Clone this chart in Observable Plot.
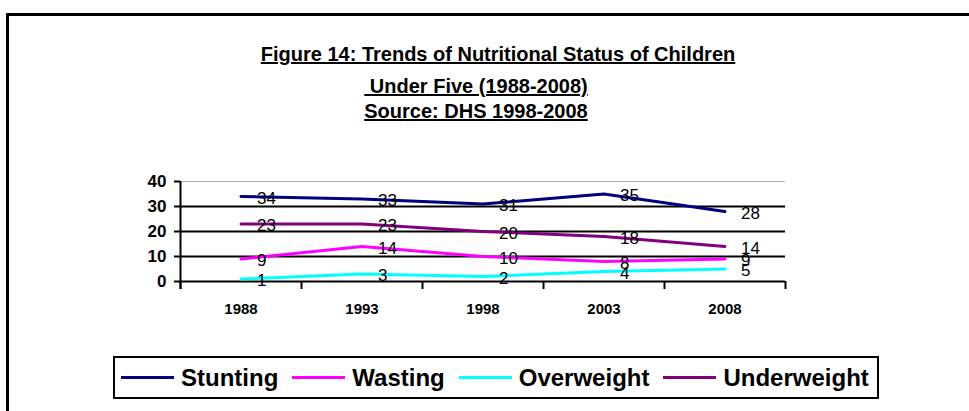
<!DOCTYPE html>
<html>
<head>
<meta charset="utf-8">
<script src="https://cdn.jsdelivr.net/npm/d3@7"></script>
<script src="https://cdn.jsdelivr.net/npm/@observablehq/plot@0.6"></script>
<style>
  html, body { margin: 0; padding: 0; background: #fff; }
  #wrap { position: relative; width: 969px; height: 411px; overflow: hidden; font-family: "Liberation Sans", Arial, sans-serif; }
  #frame { position: absolute; left: 6px; top: 13px; width: 1000px; height: 500px; border: 3px solid #000; box-sizing: border-box; }
  .title { position: absolute; font-weight: bold; font-size: 20px; text-decoration: underline; white-space: pre; transform: translateX(-50%); line-height: 1; }
  #chart { position: absolute; left: 0; top: 0; }
  #legend { position: absolute; left: 113px; top: 356px; width: 766px; height: 43px; border: 2px solid #000; box-sizing: border-box; display: flex; align-items: center; font-weight: bold; font-size: 24px; }
  .item { display: flex; align-items: center; margin-right: 14px; }
  .item:first-child { margin-left: 6px; }
  .sw { width: 53px; height: 3px; margin-right: 7px; }
</style>
</head>
<body>
<div id="wrap">
  <div id="frame"></div>
  <div class="title" style="left:498px; top:44px;">Figure 14: Trends of Nutritional Status of Children</div>
  <div class="title" style="left:476px; top:76px;"> Under Five (1988-2008)</div>
  <div class="title" style="left:476px; top:101px;">Source: DHS 1998-2008</div>
  <div id="chart"></div>
  <div id="legend"></div>
</div>
<script>
const years = ["1988", "1993", "1998", "2003", "2008"];
const seriesNames = ["Stunting", "Wasting", "Overweight", "Underweight"];
const seriesColors = ["#000080", "#FF00FF", "#00FFFF", "#800080"];
const stunting = [34, 33, 31, 35, 28];
const wasting = [9, 14, 10, 8, 9];
const overweight = [1, 3, 2, 4, 5];
const underweight = [23, 23, 20, 18, 14];
const yTicks = [0, 10, 20, 30, 40];
const gridValues = [0, 10, 20, 30];

const seriesValues = [stunting, wasting, overweight, underweight];
const rows = [];
seriesNames.forEach((name, s) => {
  seriesValues[s].forEach((v, i) => rows.push({series: name, year: years[i], pos: i + 0.5, value: v}));
});

const plot = Plot.plot({
  width: 969,
  height: 330,
  marginLeft: 180,
  marginRight: 184,
  marginTop: 181,
  marginBottom: 49,
  style: {fontFamily: "'Liberation Sans', Arial, sans-serif", background: "transparent", color: "#000"},
  x: {domain: [0, years.length], axis: null, label: null},
  y: {domain: [0, 40], axis: null, label: null},
  color: {domain: seriesNames, range: seriesColors},
  marks: [
    Plot.ruleY([40], {stroke: "#b0b0b0", strokeWidth: 1}),
    Plot.ruleY(gridValues, {stroke: "#000", strokeWidth: 2}),
    Plot.ruleX([0], {stroke: "#000", strokeWidth: 2, insetBottom: -8}),
    Plot.axisY({ticks: yTicks, label: null, tickSize: 6, tickPadding: 8, fontSize: 17, fontWeight: "bold", stroke: "#000", strokeWidth: 2}),
    Plot.axisX({ticks: d3.range(0, years.length + 1), label: null, tickSize: 8, tickFormat: () => "", stroke: "#000", strokeWidth: 2}),
    Plot.axisX({ticks: years.map((d, i) => i + 0.5), label: null, tickSize: 0, tickPadding: 22, tickFormat: (d) => years[Math.round(d - 0.5)], fontSize: 15, fontWeight: "bold"}),
    Plot.line(rows, {x: "pos", y: "value", z: "series", stroke: "series", strokeWidth: 3}),
    Plot.text(rows, {x: "pos", y: "value", text: "value", dx: 16, dy: 2, textAnchor: "start", fontSize: 17, fill: "#000"})
  ]
});
document.getElementById("chart").appendChild(plot);

const legend = document.getElementById("legend");
seriesNames.forEach((name, s) => {
  const it = document.createElement("div");
  it.className = "item";
  const sw = document.createElement("div");
  sw.className = "sw";
  sw.style.background = seriesColors[s];
  const tx = document.createElement("span");
  tx.textContent = name;
  it.appendChild(sw);
  it.appendChild(tx);
  legend.appendChild(it);
});
</script>
</body>
</html>
